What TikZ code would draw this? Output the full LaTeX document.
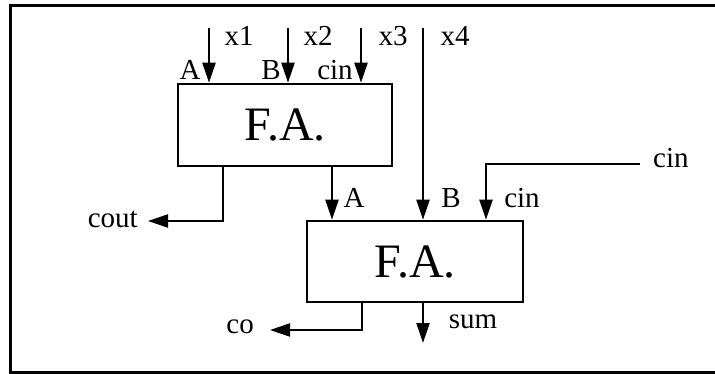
\documentclass[tikz,border=0pt]{standalone}
\usepackage{fontspec}
\setmainfont{Liberation Serif}
\usetikzlibrary{arrows.meta}
\begin{document}
\begin{tikzpicture}[x=1pt,y=-1pt,
  fabox/.style={draw, line width=2.6pt, inner sep=0pt, font=\fontsize{48}{48}\selectfont},
  wire/.style={line width=2.2pt},
  arr/.style={wire, -{Triangle[length=20pt,width=13pt]}},
  lbl/.style={font=\fontsize{29}{29}\selectfont, inner sep=0pt}]
\useasboundingbox (0,0) rectangle (715,374);
\draw[line width=3pt] (740,6) -- (10,6) -- (10,372) -- (740,372);
% boxes
\node[fabox, minimum width=214pt, minimum height=82pt] (fa1) at (285,125) {F.A.};
\node[fabox, minimum width=216pt, minimum height=81pt] (fa2) at (415,261.5) {F.A.};
% input coordinates
\coordinate (in1) at (209,28);
\coordinate (in2) at (288,28);
\coordinate (in3) at (361,28);
\coordinate (in4) at (423,28);
\coordinate (cinin) at (640,164);
\coordinate (cinx) at (486,164);
\coordinate (c1) at (223,166);
\coordinate (a2) at (332,166);
\coordinate (c2) at (362,302);
\coordinate (s2) at (423,302);
\coordinate (sumend) at (423,343);
% labels
\node[lbl] (lx1) at (239,36) {x1};
\node[lbl] (lx2) at (318,36) {x2};
\node[lbl] (lx3) at (393,36) {x3};
\node[lbl] (lx4) at (455,36) {x4};
\node[lbl] (la1) at (190,70) {A};
\node[lbl] (lb1) at (271,70) {B};
\node[lbl] (lc1) at (335,70) {cin};
\node[lbl, anchor=east] (cout) at (138,219) {cout};
\node[lbl] (la2) at (354,198) {A};
\node[lbl] (lb2) at (451,198) {B};
\node[lbl] (lc2) at (522,198) {cin};
\node[lbl, anchor=west] (cinlbl) at (653,158) {cin};
\node[lbl, anchor=east] (co) at (254,327) {co};
\node[lbl] (sum) at (473,322) {sum};
% connectors
\draw[arr] (in1) -- (in1 |- fa1.north);
\draw[arr] (in2) -- (in2 |- fa1.north);
\draw[arr] (in3) -- (in3 |- fa1.north);
\draw[arr] (in4) -- (in4 |- fa2.north);
\draw[arr] (cinin) -- (cinx) -- (cinx |- fa2.north);
\draw[arr] (c1) |- ([xshift=10pt]cout.east |- 0,221);
\draw[arr] (a2) -- (a2 |- fa2.north);
\draw[arr] (c2) |- ([xshift=16pt]co.east |- 0,330);
\draw[arr] (s2) -- (sumend);
\end{tikzpicture}
\end{document}
